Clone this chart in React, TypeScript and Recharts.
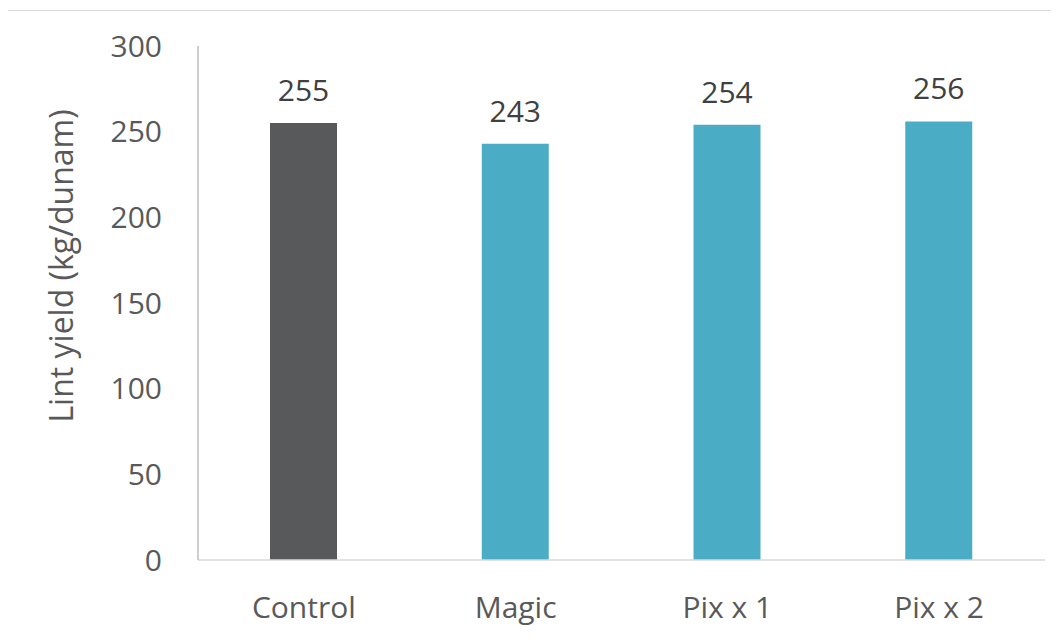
import React from 'react';
import { BarChart, Bar, XAxis, YAxis, Cell, LabelList } from 'recharts';

const CATEGORIES = ['Control', 'Magic', 'Pix x 1', 'Pix x 2'];
const YIELDS = [255, 243, 254, 256];
const BAR_COLORS = ['#58595B', '#4BACC6', '#4BACC6', '#4BACC6'];
const Y_TICKS = [0, 50, 100, 150, 200, 250, 300];

const FONT = '"Open Sans", sans-serif';

const data = CATEGORIES.map((name, i) => ({ name, value: YIELDS[i] }));

const YTitle = () => (
  <text
    x={60}
    y={266}
    transform="rotate(-90 60 266)"
    textAnchor="middle"
    dominantBaseline="central"
    fontFamily={FONT}
    fontSize={32}
    fill="#595959"
  >
    Lint yield (kg/dunam)
  </text>
);

const App: React.FC = () => {
  return (
    <div style={{ margin: -8, position: 'relative', width: 1059, height: 644, background: '#fff', overflow: 'hidden' }}>
      <div
        style={{
          position: 'absolute',
          left: 7,
          top: 10,
          width: 1100,
          height: 700,
          borderTop: '1px solid #d9d9d9',
          borderLeft: '1px solid #d9d9d9',
        }}
      />
      <div style={{ position: 'absolute', left: 0, top: 0 }}>
        <BarChart
          width={1059}
          height={644}
          data={data}
          margin={{ top: 46, right: 14, bottom: 54, left: 0 }}
        >
          <XAxis
            dataKey="name"
            height={30}
            axisLine={{ stroke: '#d9d9d9', strokeWidth: 1.5 }}
            tickLine={false}
            tickMargin={31}
            tick={{ fontFamily: FONT, fontSize: 30, fill: '#595959' }}
          />
          <YAxis
            width={198}
            domain={[0, 300]}
            ticks={Y_TICKS}
            interval={0}
            axisLine={{ stroke: '#bfbfbf', strokeWidth: 1.5 }}
            tickLine={false}
            tickMargin={30}
            tick={{ fontFamily: FONT, fontSize: 30, fill: '#595959' }}
            label={<YTitle />}
          />
          <Bar dataKey="value" barSize={67} isAnimationActive={false}>
            {data.map((d, i) => (
              <Cell key={d.name} fill={BAR_COLORS[i]} />
            ))}
            <LabelList
              dataKey="value"
              position="top"
              offset={22}
              style={{ fontFamily: FONT, fontSize: 30, fill: '#404040' }}
            />
          </Bar>
        </BarChart>
      </div>
    </div>
  );
};

export default App;
